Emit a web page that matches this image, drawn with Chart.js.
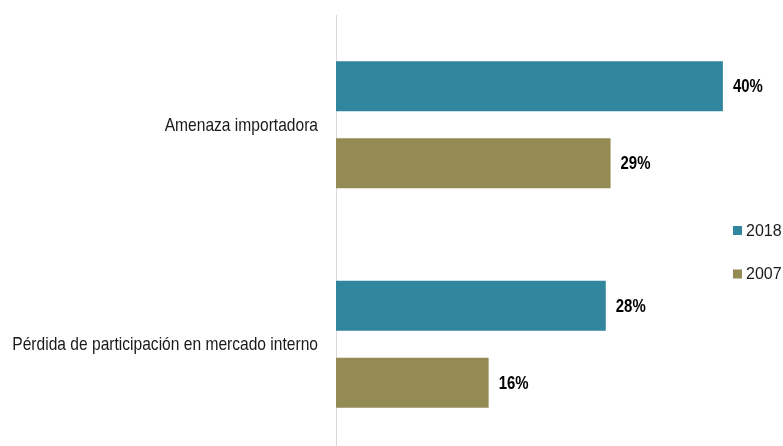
<!DOCTYPE html>
<html>
<head>
<meta charset="utf-8">
<script src="https://cdn.jsdelivr.net/npm/chart.js@4.4.0/dist/chart.umd.min.js"></script>
<style>
  html, body { margin: 0; padding: 0; background: #fff; overflow: hidden; }
  #wrap { width: 783px; height: 454px; position: relative; }
</style>
</head>
<body>
<div id="wrap"><canvas id="c"></canvas></div>
<script>
const categories = ["Amenaza importadora", "Pérdida de participación en mercado interno"];
const seriesNames = ["2018", "2007"];
const values2018 = [40.3, 28.1];
const values2007 = [28.6, 15.9];
const colors = ["#31859C", "#948A54"];

const FONT = "'Liberation Sans', Arial, sans-serif";
const LABEL_FONT = "bold 18px 'Liberation Sans', Arial, sans-serif";
const CAT_FONT = "19px 'Liberation Sans', Arial, sans-serif";

// Category labels (taken from the y scale) drawn with a narrow horizontal scale
const catLabels = {
  id: 'catLabels',
  afterDraw(chart) {
    const ctx = chart.ctx;
    const sc = chart.scales.y;
    sc.ticks.forEach((t, i) => {
      const y = sc.getPixelForTick(i);
      ctx.save();
      ctx.font = CAT_FONT;
      ctx.fillStyle = '#1a1a1a';
      ctx.textAlign = 'right';
      ctx.textBaseline = 'middle';
      ctx.translate(sc.right - 18, y + 1);
      ctx.scale(0.82, 1);
      ctx.fillText(sc.getLabelForValue(t.value), 0, 0);
      ctx.restore();
    });
  }
};

const dataLabels = {
  id: 'dataLabels',
  afterDatasetsDraw(chart) {
    const ctx = chart.ctx;
    chart.data.datasets.forEach((ds, i) => {
      chart.getDatasetMeta(i).data.forEach((el, j) => {
        ctx.save();
        ctx.font = LABEL_FONT;
        ctx.fillStyle = '#000';
        ctx.textAlign = 'left';
        ctx.textBaseline = 'middle';
        ctx.translate(el.x + 10, el.y + 1);
        ctx.scale(0.83, 1);
        ctx.fillText(Math.round(ds.data[j]) + '%', 0, 0);
        ctx.restore();
      });
    });
  }
};

const sideLegend = {
  id: 'sideLegend',
  afterDraw(chart) {
    const ctx = chart.ctx;
    ctx.save();
    ctx.font = "16px " + FONT;
    ctx.textBaseline = 'middle';
    ctx.textAlign = 'left';
    const ys = [230.5, 274];
    chart.data.datasets.forEach((ds, i) => {
      ctx.fillStyle = ds.backgroundColor;
      ctx.fillRect(733, ys[i] - 4.5, 9, 9);
      ctx.fillStyle = '#1a1a1a';
      ctx.fillText(ds.label, 746, ys[i] + 1);
    });
    ctx.restore();
  }
};

new Chart(document.getElementById('c'), {
  type: 'bar',
  data: {
    labels: categories,
    datasets: [
      { label: seriesNames[0], data: values2018, backgroundColor: colors[0], barPercentage: 0.65, categoryPercentage: 0.70 },
      { label: seriesNames[1], data: values2007, backgroundColor: colors[1], barPercentage: 0.65, categoryPercentage: 0.70 }
    ]
  },
  options: {
    indexAxis: 'y',
    responsive: true,
    maintainAspectRatio: false,
    animation: false,
    layout: { padding: { top: 15, right: 15, bottom: 0, left: 0 } },
    plugins: { legend: { display: false }, tooltip: { enabled: false } },
    scales: {
      x: { display: false, min: 0, max: 45 },
      y: {
        grid: { display: false, drawTicks: false },
        border: { display: true, color: '#d9d9d9', width: 1 },
        ticks: { padding: 18, color: 'rgba(0,0,0,0)', font: { family: FONT, size: 15.5 } },
        afterFit(s) { s.width = 336; s.paddingTop = 0; s.paddingBottom = 0; }
      }
    }
  },
  plugins: [catLabels, dataLabels, sideLegend]
});
</script>
</body>
</html>
